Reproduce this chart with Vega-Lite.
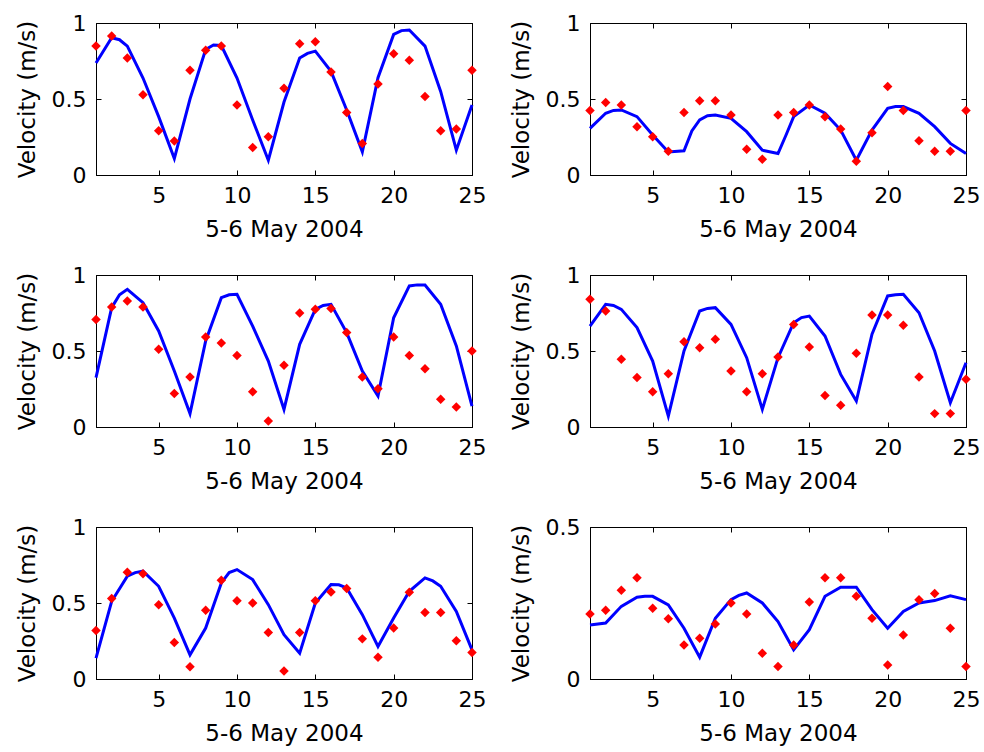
{
  "$schema": "https://vega.github.io/schema/vega-lite/v6.json",
  "padding": {"left": 15, "top": 11, "right": 5, "bottom": 5},
  "background": "white",
  "columns": 2,
  "spacing": {"row": 100, "column": 118},
  "bounds": "flush",
  "config": {
    "view": {"stroke": "black", "strokeWidth": 1},
    "axis": {
      "grid": false,
      "domainColor": "black",
      "tickColor": "black",
      "labelColor": "black",
      "titleColor": "black",
      "labelFont": "DejaVu Sans",
      "titleFont": "DejaVu Sans",
      "labelFontSize": 22,
      "titleFontSize": 23,
      "titleFontWeight": "normal",
      "tickSize": -5,
      "labelPadding": 15,
      "titlePadding": 12,
      "labelFlush": false
    }
  },
  "datasets": {
    "model": [
      {"p":1,"x":1,"v":0.737},{"p":1,"x":2,"v":0.903},{"p":1,"x":2.5,"v":0.89},{"p":1,"x":3,"v":0.848},{"p":1,"x":4,"v":0.638},{"p":1,"x":5,"v":0.384},{"p":1,"x":6,"v":0.108},{"p":1,"x":7,"v":0.5},{"p":1,"x":8,"v":0.826},{"p":1,"x":8.5,"v":0.855},{"p":1,"x":9,"v":0.852},{"p":1,"x":10,"v":0.638},{"p":1,"x":11,"v":0.362},{"p":1,"x":12,"v":0.097},{"p":1,"x":13,"v":0.48},{"p":1,"x":14,"v":0.77},{"p":1,"x":14.5,"v":0.8},{"p":1,"x":15,"v":0.815},{"p":1,"x":16,"v":0.682},{"p":1,"x":17,"v":0.428},{"p":1,"x":18,"v":0.152},{"p":1,"x":19,"v":0.64},{"p":1,"x":20,"v":0.925},{"p":1,"x":20.5,"v":0.95},{"p":1,"x":21,"v":0.954},{"p":1,"x":22,"v":0.848},{"p":1,"x":23,"v":0.55},{"p":1,"x":24,"v":0.163},{"p":1,"x":25,"v":0.461},
      {"p":2,"x":1,"v":0.307},{"p":2,"x":2,"v":0.406},{"p":2,"x":2.5,"v":0.425},{"p":2,"x":3,"v":0.428},{"p":2,"x":4,"v":0.384},{"p":2,"x":5,"v":0.263},{"p":2,"x":6,"v":0.152},{"p":2,"x":7,"v":0.159},{"p":2,"x":7.5,"v":0.29},{"p":2,"x":8,"v":0.362},{"p":2,"x":8.5,"v":0.39},{"p":2,"x":9,"v":0.395},{"p":2,"x":10,"v":0.373},{"p":2,"x":11,"v":0.285},{"p":2,"x":12,"v":0.163},{"p":2,"x":13,"v":0.141},{"p":2,"x":13.5,"v":0.26},{"p":2,"x":14,"v":0.384},{"p":2,"x":15,"v":0.461},{"p":2,"x":16,"v":0.406},{"p":2,"x":17,"v":0.296},{"p":2,"x":18,"v":0.097},{"p":2,"x":19,"v":0.296},{"p":2,"x":20,"v":0.439},{"p":2,"x":20.5,"v":0.45},{"p":2,"x":21,"v":0.45},{"p":2,"x":22,"v":0.406},{"p":2,"x":23,"v":0.318},{"p":2,"x":24,"v":0.208},{"p":2,"x":25,"v":0.141},
      {"p":3,"x":1,"v":0.325},{"p":3,"x":2,"v":0.785},{"p":3,"x":2.5,"v":0.87},{"p":3,"x":3,"v":0.906},{"p":3,"x":4,"v":0.818},{"p":3,"x":5,"v":0.632},{"p":3,"x":6,"v":0.368},{"p":3,"x":7,"v":0.088},{"p":3,"x":8,"v":0.566},{"p":3,"x":9,"v":0.851},{"p":3,"x":9.5,"v":0.87},{"p":3,"x":10,"v":0.873},{"p":3,"x":11,"v":0.664},{"p":3,"x":12,"v":0.434},{"p":3,"x":13,"v":0.116},{"p":3,"x":14,"v":0.544},{"p":3,"x":15,"v":0.774},{"p":3,"x":15.5,"v":0.8},{"p":3,"x":16,"v":0.807},{"p":3,"x":17,"v":0.621},{"p":3,"x":18,"v":0.368},{"p":3,"x":19,"v":0.204},{"p":3,"x":20,"v":0.719},{"p":3,"x":21,"v":0.928},{"p":3,"x":21.5,"v":0.935},{"p":3,"x":22,"v":0.934},{"p":3,"x":23,"v":0.807},{"p":3,"x":24,"v":0.533},{"p":3,"x":25,"v":0.138},
      {"p":4,"x":1,"v":0.664},{"p":4,"x":2,"v":0.807},{"p":4,"x":2.5,"v":0.8},{"p":4,"x":3,"v":0.774},{"p":4,"x":4,"v":0.654},{"p":4,"x":5,"v":0.434},{"p":4,"x":6,"v":0.072},{"p":4,"x":7,"v":0.5},{"p":4,"x":8,"v":0.763},{"p":4,"x":8.5,"v":0.78},{"p":4,"x":9,"v":0.785},{"p":4,"x":10,"v":0.675},{"p":4,"x":11,"v":0.456},{"p":4,"x":12,"v":0.116},{"p":4,"x":13,"v":0.456},{"p":4,"x":14,"v":0.686},{"p":4,"x":14.5,"v":0.72},{"p":4,"x":15,"v":0.73},{"p":4,"x":16,"v":0.599},{"p":4,"x":17,"v":0.346},{"p":4,"x":18,"v":0.171},{"p":4,"x":19,"v":0.61},{"p":4,"x":20,"v":0.862},{"p":4,"x":20.5,"v":0.87},{"p":4,"x":21,"v":0.873},{"p":4,"x":22,"v":0.752},{"p":4,"x":23,"v":0.5},{"p":4,"x":24,"v":0.16},{"p":4,"x":25,"v":0.423},
      {"p":5,"x":1,"v":0.137},{"p":5,"x":2,"v":0.511},{"p":5,"x":3,"v":0.676},{"p":5,"x":3.5,"v":0.7},{"p":5,"x":4,"v":0.709},{"p":5,"x":5,"v":0.61},{"p":5,"x":6,"v":0.401},{"p":5,"x":7,"v":0.159},{"p":5,"x":8,"v":0.335},{"p":5,"x":9,"v":0.632},{"p":5,"x":9.5,"v":0.7},{"p":5,"x":10,"v":0.72},{"p":5,"x":11,"v":0.654},{"p":5,"x":12,"v":0.489},{"p":5,"x":13,"v":0.291},{"p":5,"x":14,"v":0.17},{"p":5,"x":15,"v":0.5},{"p":5,"x":16,"v":0.621},{"p":5,"x":16.5,"v":0.62},{"p":5,"x":17,"v":0.599},{"p":5,"x":18,"v":0.423},{"p":5,"x":19,"v":0.214},{"p":5,"x":20,"v":0.401},{"p":5,"x":21,"v":0.577},{"p":5,"x":22,"v":0.665},{"p":5,"x":22.5,"v":0.645},{"p":5,"x":23,"v":0.61},{"p":5,"x":24,"v":0.445},{"p":5,"x":25,"v":0.192},
      {"p":6,"x":1,"v":0.178},{"p":6,"x":2,"v":0.184},{"p":6,"x":3,"v":0.239},{"p":6,"x":4,"v":0.269},{"p":6,"x":4.5,"v":0.272},{"p":6,"x":5,"v":0.272},{"p":6,"x":6,"v":0.244},{"p":6,"x":7,"v":0.167},{"p":6,"x":8,"v":0.072},{"p":6,"x":9,"v":0.2},{"p":6,"x":10,"v":0.261},{"p":6,"x":10.5,"v":0.275},{"p":6,"x":11,"v":0.283},{"p":6,"x":12,"v":0.25},{"p":6,"x":13,"v":0.189},{"p":6,"x":14,"v":0.096},{"p":6,"x":15,"v":0.162},{"p":6,"x":16,"v":0.272},{"p":6,"x":17,"v":0.302},{"p":6,"x":17.5,"v":0.302},{"p":6,"x":18,"v":0.302},{"p":6,"x":19,"v":0.228},{"p":6,"x":20,"v":0.167},{"p":6,"x":21,"v":0.222},{"p":6,"x":22,"v":0.25},{"p":6,"x":23,"v":0.258},{"p":6,"x":24,"v":0.274},{"p":6,"x":25,"v":0.261}
    ],
    "obs": [
      {"p":1,"x":1,"v":0.848},{"p":1,"x":2,"v":0.914},{"p":1,"x":3,"v":0.77},{"p":1,"x":4,"v":0.528},{"p":1,"x":5,"v":0.291},{"p":1,"x":6,"v":0.223},{"p":1,"x":7,"v":0.689},{"p":1,"x":8,"v":0.821},{"p":1,"x":9,"v":0.848},{"p":1,"x":10,"v":0.461},{"p":1,"x":11,"v":0.181},{"p":1,"x":12,"v":0.252},{"p":1,"x":13,"v":0.57},{"p":1,"x":14,"v":0.863},{"p":1,"x":15,"v":0.876},{"p":1,"x":16,"v":0.678},{"p":1,"x":17,"v":0.411},{"p":1,"x":18,"v":0.208},{"p":1,"x":19,"v":0.598},{"p":1,"x":20,"v":0.797},{"p":1,"x":21,"v":0.755},{"p":1,"x":22,"v":0.517},{"p":1,"x":23,"v":0.291},{"p":1,"x":24,"v":0.302},{"p":1,"x":25,"v":0.689},
      {"p":2,"x":1,"v":0.424},{"p":2,"x":2,"v":0.477},{"p":2,"x":3,"v":0.461},{"p":2,"x":4,"v":0.318},{"p":2,"x":5,"v":0.252},{"p":2,"x":6,"v":0.157},{"p":2,"x":7,"v":0.411},{"p":2,"x":8,"v":0.488},{"p":2,"x":9,"v":0.488},{"p":2,"x":10,"v":0.395},{"p":2,"x":11,"v":0.17},{"p":2,"x":12,"v":0.104},{"p":2,"x":13,"v":0.395},{"p":2,"x":14,"v":0.411},{"p":2,"x":15,"v":0.461},{"p":2,"x":16,"v":0.384},{"p":2,"x":17,"v":0.302},{"p":2,"x":18,"v":0.091},{"p":2,"x":19,"v":0.278},{"p":2,"x":20,"v":0.583},{"p":2,"x":21,"v":0.424},{"p":2,"x":22,"v":0.225},{"p":2,"x":23,"v":0.157},{"p":2,"x":24,"v":0.157},{"p":2,"x":25,"v":0.424},
      {"p":3,"x":1,"v":0.708},{"p":3,"x":2,"v":0.789},{"p":3,"x":3,"v":0.829},{"p":3,"x":4,"v":0.789},{"p":3,"x":5,"v":0.511},{"p":3,"x":6,"v":0.221},{"p":3,"x":7,"v":0.329},{"p":3,"x":8,"v":0.592},{"p":3,"x":9,"v":0.553},{"p":3,"x":10,"v":0.471},{"p":3,"x":11,"v":0.232},{"p":3,"x":12,"v":0.039},{"p":3,"x":13,"v":0.406},{"p":3,"x":14,"v":0.75},{"p":3,"x":15,"v":0.774},{"p":3,"x":16,"v":0.779},{"p":3,"x":17,"v":0.621},{"p":3,"x":18,"v":0.329},{"p":3,"x":19,"v":0.252},{"p":3,"x":20,"v":0.592},{"p":3,"x":21,"v":0.471},{"p":3,"x":22,"v":0.384},{"p":3,"x":23,"v":0.182},{"p":3,"x":24,"v":0.132},{"p":3,"x":25,"v":0.5},
      {"p":4,"x":1,"v":0.84},{"p":4,"x":2,"v":0.763},{"p":4,"x":3,"v":0.445},{"p":4,"x":4,"v":0.325},{"p":4,"x":5,"v":0.232},{"p":4,"x":6,"v":0.351},{"p":4,"x":7,"v":0.561},{"p":4,"x":8,"v":0.522},{"p":4,"x":9,"v":0.577},{"p":4,"x":10,"v":0.368},{"p":4,"x":11,"v":0.232},{"p":4,"x":12,"v":0.351},{"p":4,"x":13,"v":0.461},{"p":4,"x":14,"v":0.675},{"p":4,"x":15,"v":0.526},{"p":4,"x":16,"v":0.208},{"p":4,"x":17,"v":0.143},{"p":4,"x":18,"v":0.485},{"p":4,"x":19,"v":0.737},{"p":4,"x":20,"v":0.737},{"p":4,"x":21,"v":0.669},{"p":4,"x":22,"v":0.329},{"p":4,"x":23,"v":0.088},{"p":4,"x":24,"v":0.088},{"p":4,"x":25,"v":0.314},
      {"p":5,"x":1,"v":0.319},{"p":5,"x":2,"v":0.529},{"p":5,"x":3,"v":0.703},{"p":5,"x":4,"v":0.692},{"p":5,"x":5,"v":0.489},{"p":5,"x":6,"v":0.24},{"p":5,"x":7,"v":0.081},{"p":5,"x":8,"v":0.452},{"p":5,"x":9,"v":0.65},{"p":5,"x":10,"v":0.515},{"p":5,"x":11,"v":0.5},{"p":5,"x":12,"v":0.306},{"p":5,"x":13,"v":0.053},{"p":5,"x":14,"v":0.306},{"p":5,"x":15,"v":0.515},{"p":5,"x":16,"v":0.573},{"p":5,"x":17,"v":0.595},{"p":5,"x":18,"v":0.264},{"p":5,"x":19,"v":0.143},{"p":5,"x":20,"v":0.335},{"p":5,"x":21,"v":0.57},{"p":5,"x":22,"v":0.438},{"p":5,"x":23,"v":0.438},{"p":5,"x":24,"v":0.251},{"p":5,"x":25,"v":0.174},
      {"p":6,"x":1,"v":0.214},{"p":6,"x":2,"v":0.226},{"p":6,"x":3,"v":0.292},{"p":6,"x":4,"v":0.333},{"p":6,"x":5,"v":0.233},{"p":6,"x":6,"v":0.198},{"p":6,"x":7,"v":0.112},{"p":6,"x":8,"v":0.134},{"p":6,"x":9,"v":0.181},{"p":6,"x":10,"v":0.25},{"p":6,"x":11,"v":0.214},{"p":6,"x":12,"v":0.085},{"p":6,"x":13,"v":0.041},{"p":6,"x":14,"v":0.112},{"p":6,"x":15,"v":0.253},{"p":6,"x":16,"v":0.333},{"p":6,"x":17,"v":0.333},{"p":6,"x":18,"v":0.272},{"p":6,"x":19,"v":0.2},{"p":6,"x":20,"v":0.046},{"p":6,"x":21,"v":0.145},{"p":6,"x":22,"v":0.261},{"p":6,"x":23,"v":0.281},{"p":6,"x":24,"v":0.167},{"p":6,"x":25,"v":0.041}
    ]
  },
  "concat": [
    {"width":376,"height":152,"resolve":{"axis":{"x":"independent","y":"independent"}},"layer":[
      {"data":{"name":"model"},"transform":[{"filter":"datum.p==1"}],"mark":{"type":"line","color":"#0000ff","strokeWidth":3},
       "encoding":{"x":{"field":"x","type":"quantitative","scale":{"domain":[1,25],"nice":false},"axis":{"values":[5,10,15,20,25],"title":"5-6 May 2004"}},
                   "y":{"field":"v","type":"quantitative","scale":{"domain":[0,1],"nice":false},"axis":{"values":[0,0.5,1],"format":"~g","title":"Velocity (m/s)"}}}},
      {"data":{"name":"obs"},"transform":[{"filter":"datum.p==1"}],"mark":{"type":"point","shape":"diamond","filled":true,"color":"#ff0000","size":90,"opacity":1},
       "encoding":{"x":{"field":"x","type":"quantitative","axis":{"orient":"top","values":[5,10,15,20,25],"labels":false,"title":null}},
                   "y":{"field":"v","type":"quantitative","axis":{"orient":"right","values":[0,0.5,1],"labels":false,"title":null}}}}
    ]},
    {"width":376,"height":152,"resolve":{"axis":{"x":"independent","y":"independent"}},"layer":[
      {"data":{"name":"model"},"transform":[{"filter":"datum.p==2"}],"mark":{"type":"line","color":"#0000ff","strokeWidth":3},
       "encoding":{"x":{"field":"x","type":"quantitative","scale":{"domain":[1,25],"nice":false},"axis":{"values":[5,10,15,20,25],"title":"5-6 May 2004"}},
                   "y":{"field":"v","type":"quantitative","scale":{"domain":[0,1],"nice":false},"axis":{"values":[0,0.5,1],"format":"~g","title":"Velocity (m/s)"}}}},
      {"data":{"name":"obs"},"transform":[{"filter":"datum.p==2"}],"mark":{"type":"point","shape":"diamond","filled":true,"color":"#ff0000","size":90,"opacity":1},
       "encoding":{"x":{"field":"x","type":"quantitative","axis":{"orient":"top","values":[5,10,15,20,25],"labels":false,"title":null}},
                   "y":{"field":"v","type":"quantitative","axis":{"orient":"right","values":[0,0.5,1],"labels":false,"title":null}}}}
    ]},
    {"width":376,"height":152,"resolve":{"axis":{"x":"independent","y":"independent"}},"layer":[
      {"data":{"name":"model"},"transform":[{"filter":"datum.p==3"}],"mark":{"type":"line","color":"#0000ff","strokeWidth":3},
       "encoding":{"x":{"field":"x","type":"quantitative","scale":{"domain":[1,25],"nice":false},"axis":{"values":[5,10,15,20,25],"title":"5-6 May 2004"}},
                   "y":{"field":"v","type":"quantitative","scale":{"domain":[0,1],"nice":false},"axis":{"values":[0,0.5,1],"format":"~g","title":"Velocity (m/s)"}}}},
      {"data":{"name":"obs"},"transform":[{"filter":"datum.p==3"}],"mark":{"type":"point","shape":"diamond","filled":true,"color":"#ff0000","size":90,"opacity":1},
       "encoding":{"x":{"field":"x","type":"quantitative","axis":{"orient":"top","values":[5,10,15,20,25],"labels":false,"title":null}},
                   "y":{"field":"v","type":"quantitative","axis":{"orient":"right","values":[0,0.5,1],"labels":false,"title":null}}}}
    ]},
    {"width":376,"height":152,"resolve":{"axis":{"x":"independent","y":"independent"}},"layer":[
      {"data":{"name":"model"},"transform":[{"filter":"datum.p==4"}],"mark":{"type":"line","color":"#0000ff","strokeWidth":3},
       "encoding":{"x":{"field":"x","type":"quantitative","scale":{"domain":[1,25],"nice":false},"axis":{"values":[5,10,15,20,25],"title":"5-6 May 2004"}},
                   "y":{"field":"v","type":"quantitative","scale":{"domain":[0,1],"nice":false},"axis":{"values":[0,0.5,1],"format":"~g","title":"Velocity (m/s)"}}}},
      {"data":{"name":"obs"},"transform":[{"filter":"datum.p==4"}],"mark":{"type":"point","shape":"diamond","filled":true,"color":"#ff0000","size":90,"opacity":1},
       "encoding":{"x":{"field":"x","type":"quantitative","axis":{"orient":"top","values":[5,10,15,20,25],"labels":false,"title":null}},
                   "y":{"field":"v","type":"quantitative","axis":{"orient":"right","values":[0,0.5,1],"labels":false,"title":null}}}}
    ]},
    {"width":376,"height":152,"resolve":{"axis":{"x":"independent","y":"independent"}},"layer":[
      {"data":{"name":"model"},"transform":[{"filter":"datum.p==5"}],"mark":{"type":"line","color":"#0000ff","strokeWidth":3},
       "encoding":{"x":{"field":"x","type":"quantitative","scale":{"domain":[1,25],"nice":false},"axis":{"values":[5,10,15,20,25],"title":"5-6 May 2004"}},
                   "y":{"field":"v","type":"quantitative","scale":{"domain":[0,1],"nice":false},"axis":{"values":[0,0.5,1],"format":"~g","title":"Velocity (m/s)"}}}},
      {"data":{"name":"obs"},"transform":[{"filter":"datum.p==5"}],"mark":{"type":"point","shape":"diamond","filled":true,"color":"#ff0000","size":90,"opacity":1},
       "encoding":{"x":{"field":"x","type":"quantitative","axis":{"orient":"top","values":[5,10,15,20,25],"labels":false,"title":null}},
                   "y":{"field":"v","type":"quantitative","axis":{"orient":"right","values":[0,0.5,1],"labels":false,"title":null}}}}
    ]},
    {"width":376,"height":152,"resolve":{"axis":{"x":"independent","y":"independent"}},"layer":[
      {"data":{"name":"model"},"transform":[{"filter":"datum.p==6"}],"mark":{"type":"line","color":"#0000ff","strokeWidth":3},
       "encoding":{"x":{"field":"x","type":"quantitative","scale":{"domain":[1,25],"nice":false},"axis":{"values":[5,10,15,20,25],"title":"5-6 May 2004"}},
                   "y":{"field":"v","type":"quantitative","scale":{"domain":[0,0.5],"nice":false},"axis":{"values":[0,0.5],"format":"~g","title":"Velocity (m/s)"}}}},
      {"data":{"name":"obs"},"transform":[{"filter":"datum.p==6"}],"mark":{"type":"point","shape":"diamond","filled":true,"color":"#ff0000","size":90,"opacity":1},
       "encoding":{"x":{"field":"x","type":"quantitative","axis":{"orient":"top","values":[5,10,15,20,25],"labels":false,"title":null}},
                   "y":{"field":"v","type":"quantitative","axis":{"orient":"right","values":[0,0.5],"labels":false,"title":null}}}}
    ]}
  ]
}
